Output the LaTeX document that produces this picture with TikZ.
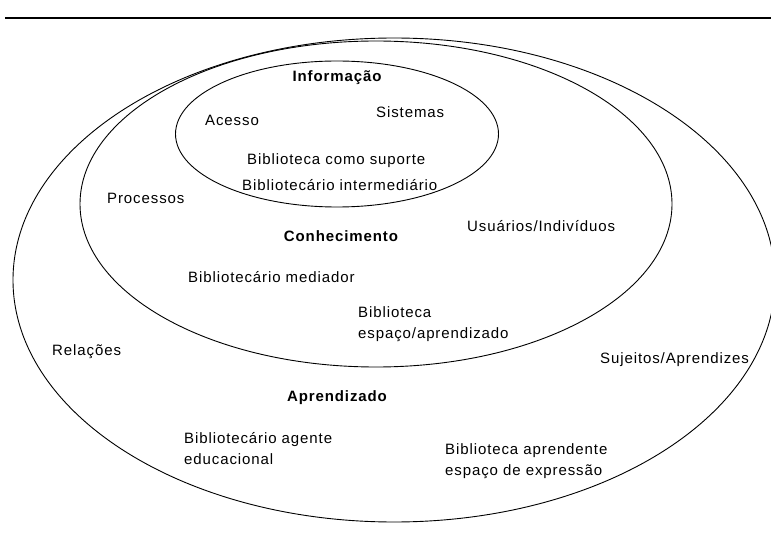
\documentclass[tikz,border=0pt]{standalone}
\usepackage{fontspec}
\setmainfont{Liberation Sans}[LetterSpace=6]
\begin{document}
\begin{tikzpicture}[x=1pt,y=-1pt,
  lbl/.style={inner sep=0pt, anchor=base west, font=\fontsize{15}{21}\selectfont, align=left},
  hd/.style={inner sep=0pt, anchor=base, font=\fontsize{15}{21}\selectfont\bfseries},
  ring/.style={draw=black, line width=0.9pt}]
\useasboundingbox (0,0) rectangle (771,548);
% top rule
\coordinate (ruleL) at (5,18);
\coordinate (ruleR) at (771,18);
\draw[line width=1.4pt] (ruleL) -- (ruleR);
% rings
\draw[ring] (394,280) ellipse [x radius=381pt, y radius=242pt];
\draw[ring] (376,204) ellipse [x radius=296pt, y radius=163pt];
\draw[ring] (337,134) ellipse [x radius=161.5pt, y radius=73pt];
% labels
\node[hd] (info) at (337,82) {Informação};
\node[lbl] (acesso) at (205,126) {Acesso};
\node[lbl] (sist) at (376,118) {Sistemas};
\node[lbl] (bsup) at (247,165) {Biblioteca como suporte};
\node[lbl] (binter) at (242,191) {Bibliotecário intermediário};
\node[lbl] (proc) at (107,204) {Processos};
\node[hd] (conh) at (341,241) {Conhecimento};
\node[lbl] (usu) at (467,232) {Usuários/Indivíduos};
\node[lbl] (bmed) at (188,282) {Bibliotecário mediador};
\node[lbl] (besp) at (358,338) {Biblioteca\\espaço/aprendizado};
\node[lbl] (rel) at (52,355) {Relações};
\node[lbl] (suj) at (600,363) {Sujeitos/Aprendizes};
\node[hd] (apr) at (337,401) {Aprendizado};
\node[lbl] (bag) at (184,464) {Bibliotecário agente\\educacional};
\node[lbl] (bapr) at (445,475) {Biblioteca aprendente\\espaço de expressão};
\end{tikzpicture}
\end{document}
